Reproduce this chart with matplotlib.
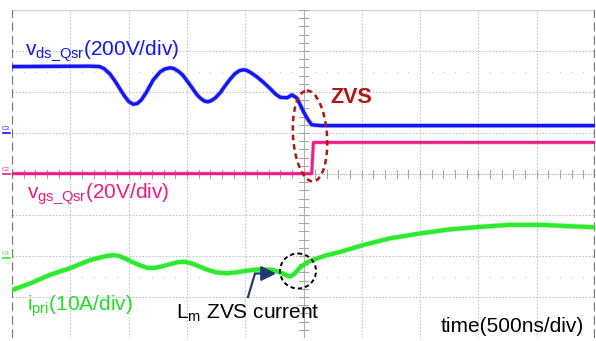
import matplotlib
matplotlib.use("Agg")
import matplotlib.pyplot as plt
from matplotlib.patches import Ellipse
import numpy as np

plt.rcParams['font.family'] = ['Liberation Sans', 'DejaVu Sans']
plt.rcParams['mathtext.fontset'] = 'custom'
plt.rcParams['mathtext.rm'] = 'Liberation Sans'

# ---- data, in screen divisions (x: 500 ns/div, y: per-channel scale) ----
vds_t = [0.00, 1.34, 1.50, 1.58, 1.68, 1.77, 1.85, 1.93, 2.00, 2.08, 2.15, 2.22,
         2.30, 2.42, 2.54, 2.62, 2.71, 2.78, 2.86, 2.93, 3.02, 3.10, 3.18, 3.24,
         3.30, 3.36, 3.42, 3.49, 3.57, 3.66, 3.74, 3.82, 3.90, 3.96, 4.02, 4.10,
         4.20, 4.31, 4.43, 4.52, 4.60, 4.72, 4.80, 4.88, 4.94, 5.00, 5.07, 5.14,
         5.30, 10.0]
vds_v = [2.62, 2.63, 2.62, 2.57, 2.44, 2.26, 2.08, 1.90, 1.77, 1.70, 1.72, 1.81,
         1.98, 2.29, 2.49, 2.56, 2.59, 2.57, 2.50, 2.41, 2.24, 2.08, 1.92, 1.84,
         1.78, 1.76, 1.79, 1.86, 1.98, 2.16, 2.31, 2.44, 2.52, 2.54, 2.53, 2.47,
         2.37, 2.24, 2.08, 1.95, 1.87, 1.86, 1.93, 1.86, 1.70, 1.52, 1.34, 1.20,
         1.18, 1.18]

vgs_t = [0.00, 5.14, 5.17, 10.0]
vgs_v = [0.01, 0.01, 0.77, 0.77]

ipri_t = [0.00, 0.31, 0.65, 0.99, 1.34, 1.50, 1.62, 1.74, 1.84, 1.94, 2.05, 2.18,
          2.32, 2.45, 2.58, 2.71, 2.84, 2.97, 3.10, 3.22, 3.36, 3.51, 3.68, 3.85,
          4.02, 4.20, 4.35, 4.48, 4.63, 4.72, 4.77, 4.84, 4.94, 5.08, 5.23, 5.40,
          5.63, 6.03, 6.48, 7.00, 7.51, 8.03, 8.54, 9.06, 9.51, 10.0]
ipri_v = [-2.83, -2.67, -2.46, -2.30, -2.10, -2.04, -2.00, -1.98, -2.00, -2.06,
          -2.14, -2.22, -2.29, -2.29, -2.25, -2.20, -2.15, -2.14, -2.19, -2.26,
          -2.34, -2.40, -2.42, -2.40, -2.36, -2.33, -2.33, -2.34, -2.42, -2.48,
          -2.50, -2.44, -2.28, -2.14, -2.06, -1.98, -1.90, -1.73, -1.57, -1.45,
          -1.35, -1.29, -1.24, -1.24, -1.27, -1.30]

BLUE = '#1414F5'
PINK = '#F01A86'
GREEN = '#2EEA2E'
GREEN_TXT = '#22DD22'
DARKRED = '#B01515'
NAVY = '#1F3A6E'

W, H = 596, 341
fig = plt.figure(figsize=(W / 100, H / 100), dpi=100)
fig.patch.set_facecolor('white')

L, R, T, B = 12, 595, 10, 338
ax = fig.add_axes([L / W, 1 - B / H, (R - L) / W, (B - T) / H])
ax.set_xlim(0, 10)
ax.set_ylim(-4, 4)
ax.axis('off')

# grid
for x in range(1, 10):
    if x == 5:
        continue
    ax.plot([x, x], [-4, 4], color='#C4C4C4', lw=0.8, ls=(0, (1.5, 1.5)), zorder=1)
for y in range(-3, 4):
    if y == 0:
        continue
    ax.plot([0, 10], [y, y], color='#C4C4C4', lw=0.8, ls=(0, (1.5, 1.5)), zorder=1)
ax.plot([0, 10], [4, 4], color='#D0D0D0', lw=1.0, zorder=1)
# centre cross with ticks
ax.plot([5, 5], [-4, 4], color='#B0B0B0', lw=0.8, zorder=1)
ax.plot([0, 10], [0, 0], color='#B8B8B8', lw=0.8, ls=(0, (1.5, 1.0)), zorder=1)
for yy in np.arange(-4, 4.01, 0.2):
    ax.plot([4.93, 5.07], [yy, yy], color='#A8A8A8', lw=0.8, zorder=1)
for xx in np.arange(0, 10.01, 0.2):
    ax.plot([xx, xx], [-0.09, 0.09], color='#A8A8A8', lw=0.8, zorder=1)
# minor dot rows at +/-2.5 div
for yrow in (2.5, -2.5):
    xs = [v for v in np.arange(0.2, 10, 0.2) if abs(v - round(v)) > 0.05]
    ax.plot(xs, [yrow] * len(xs), ls='none', marker='s', ms=0.8, mew=0,
            color='#C8C8C8', zorder=1)
# borders
ax.plot([0, 0], [-4, 4], color='#777777', lw=1.6, ls=(0, (4, 2)), zorder=2)
ax.plot([10, 10], [-4, 4], color='#777777', lw=1.6, ls=(0, (4, 2)), zorder=2)

# traces
ax.plot(vds_t, vds_v, color=BLUE, lw=2.4, solid_joinstyle='round', zorder=4)
ax.plot(vds_t, vds_v, color=BLUE, lw=3.4, alpha=0.3, solid_joinstyle='round', zorder=3)
ax.plot(vgs_t, vgs_v, color=PINK, lw=2.0, zorder=4)
ax.plot(vgs_t, vgs_v, color=PINK, lw=3.0, alpha=0.3, zorder=3)
ax.plot(ipri_t, ipri_v, color=GREEN, lw=3.0, solid_joinstyle='round', zorder=4)
ax.plot(ipri_t, ipri_v, color=GREEN, lw=4.0, alpha=0.3, solid_joinstyle='round', zorder=3)

# overlay axes in pixel coordinates for annotations
ov = fig.add_axes([0, 0, 1, 1])
ov.set_xlim(0, W)
ov.set_ylim(H, 0)
ov.axis('off')
ov.patch.set_alpha(0)

FS = 15
ov.text(25, 55, r'$\mathregular{v_{ds\_Qsr}}$(200V/div)', color=BLUE, fontsize=FS, va='baseline')
ov.text(27, 198, r'$\mathregular{v_{gs\_Qsr}}$(20V/div)', color=PINK, fontsize=FS, va='baseline')
ov.text(27, 311, r'$\mathregular{i_{pri}}$(10A/div)', color=GREEN_TXT, fontsize=FS, va='baseline')
ov.text(176, 319, r'$\mathregular{L_m}$ ZVS current', color='black', fontsize=FS, va='baseline')
ov.text(584, 332, 'time(500ns/div)', color='black', fontsize=FS, va='baseline', ha='right')
ov.text(330, 103, 'ZVS', color=DARKRED, fontsize=15.5, fontweight='bold', va='baseline')

ov.add_patch(Ellipse((310, 136), 34, 91, angle=-4, fill=False, ec=DARKRED, lw=1.8,
                     ls=(0, (2.2, 1.6)), zorder=6))
ov.add_patch(Ellipse((298, 271), 36, 35, fill=False, ec='black', lw=1.4,
                     ls=(0, (2.2, 1.6)), zorder=6))

ov.plot([248, 255, 266], [297, 273.5, 273.5], color=NAVY, lw=1.6, solid_joinstyle='miter', zorder=6)
ov.annotate('', xy=(279, 273.5), xytext=(264, 273.5),
            arrowprops=dict(arrowstyle='-|>,head_length=0.9,head_width=0.45', color=NAVY, lw=1.6),
            zorder=6)

# channel markers
for lbl, yb, col in (('C3', 133, BLUE), ('C2', 174, PINK), ('C4', 258, GREEN)):
    ov.text(6, yb - 3, lbl, color=col, fontsize=4.5, ha='center', va='baseline')
    ov.plot([3, 10], [yb, yb], color=col, lw=1.2)

fig.savefig('out.png', dpi=100, facecolor='white')
